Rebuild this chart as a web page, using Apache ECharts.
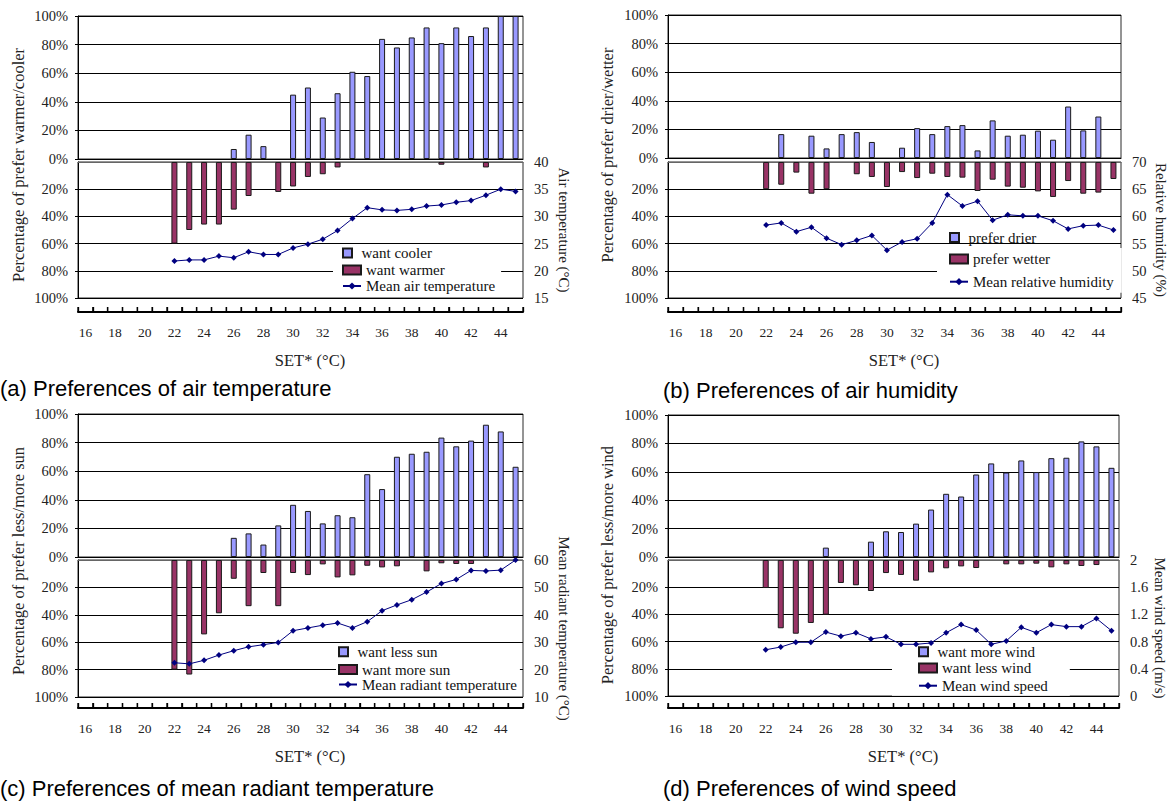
<!DOCTYPE html>
<html>
<head>
<meta charset="utf-8">
<script src="https://cdn.jsdelivr.net/npm/echarts@6/dist/echarts.min.js"></script>
<style>
html,body{margin:0;padding:0;background:#fff;}
#c{width:1169px;height:804px;}
</style>
</head>
<body>
<div id="c"></div>
<script>
// ---------- DATA ----------
const categories = ['16','17','18','19','20','21','22','23','24','25','26','27','28','29','30','31','32','33','34','35','36','37','38','39','40','41','42','43','44','45'];

// (a) air temperature
const aWantCooler = [null,null,null,null,null,null,null,null,null,null,7,17,9,null,45,50,29,46,61,58,84,78,85,92,81,92,86,92,100,100];
const aWantWarmer = [null,null,null,null,null,null,60,50,46,46,35,25,null,22,18,11,9,4,null,null,null,null,null,null,2,null,null,4,null,null];
const aMeanAirTemp = [null,null,null,null,null,null,21.8,22.0,22.0,22.7,22.4,23.5,23.0,23.0,24.2,24.9,25.8,27.4,29.6,31.6,31.2,31.1,31.3,31.9,32.1,32.6,32.9,33.9,35.0,34.6];

// (b) air humidity
const bPreferDrier = [null,null,null,null,null,null,null,16.7,null,15.6,6.7,16.7,18.1,11.2,null,7.2,20.9,16.7,22.3,23,5.3,26.3,15.6,16.3,19.1,12.8,36,19.3,29,null];
const bPreferWetter = [null,null,null,null,null,null,20,16.7,7.8,23.3,20,null,9,11,18.4,7.4,11.8,8.6,11,11.5,21.3,13,18.1,18.9,21.6,25.7,14,23.3,22.5,12.5];
const bMeanRH = [null,null,null,null,null,null,58.4,58.8,57.2,58.0,56.0,54.8,55.6,56.5,53.8,55.3,55.9,58.8,64.0,61.9,62.8,59.3,60.3,60.1,60.1,59.2,57.7,58.3,58.4,57.5];

// (c) mean radiant temperature
const cWantLessSun = [null,null,null,null,null,null,null,null,null,null,13.4,16.5,8.7,22.1,36.5,32.2,23.5,29.2,27.8,57.9,47.5,70.1,72.2,73.6,83.5,77.4,81.4,92.5,87.8,63.1];
const cWantMoreSun = [null,null,null,null,null,null,80,83.6,54.3,38.9,13.7,33.7,9.5,33.7,9.5,11,3.2,12.7,11.2,4.2,5.4,4.6,null,8.3,2.4,2.9,2.9,null,null,null];
const cMeanMRT = [null,null,null,null,null,null,22.5,22.1,23.4,25.3,26.9,28.3,29.1,29.9,34.2,35.2,36.2,37.0,35.2,37.5,41.5,43.6,45.5,48.3,51.4,52.9,56.2,56.0,56.3,60.0];

// (d) wind speed
const dWantMoreWind = [null,null,null,null,null,null,null,null,null,null,6.6,null,null,10.8,18.1,17.6,23.5,33.4,44.5,42.6,58.1,65.9,59.5,68,59.8,69.6,69.9,81.4,77.9,62.8];
const dWantLessWind = [null,null,null,null,null,null,20.6,50.2,54.2,46.3,40.2,16.9,18.6,22.8,9.6,11,15.2,9.1,6.1,4.7,5.9,null,3.2,3.2,2.7,5.4,3.2,4.4,3.7,null];
const dMeanWind = [null,null,null,null,null,null,0.68,0.72,0.79,0.79,0.94,0.88,0.93,0.84,0.87,0.76,0.76,0.78,0.93,1.05,0.97,0.76,0.81,1.01,0.93,1.05,1.02,1.02,1.14,0.96];

// ---------- PANELS ----------
const panels = [
  {cap:'(a) Preferences of air temperature', capX:0, capY:388,
   leftName:'Percentage of prefer warmer/cooler', lnX:18, lnY:165,
   rightName:'Air temperature (\u00B0C)', rGap:33.5, rMin:15, rMax:40, rInt:5,
   s1:'want cooler', s2:'want warmer', s3:'Mean air temperature',
   d1:aWantCooler, d2:aWantWarmer, d3:aMeanAirTemp,
   L:78, R:523, tTop:16, tH:143, bTop:162, bH:136, axY:312,
   lgA:{left:342, top:245, lh:16, gap:0},
   lgB:{left:333, top:259, lh:16, gap:0, pad:[3,6,3,9]}},
  {cap:'(b) Preferences of air humidity', capX:663, capY:390,
   leftName:'Percentage of prefer drier/wetter', lnX:607, lnY:155,
   rightName:'Relative humidity (%)', rGap:32, rMin:45, rMax:70, rInt:5,
   s1:'prefer drier', s2:'prefer wetter', s3:'Mean relative humidity',
   d1:bPreferDrier, d2:bPreferWetter, d3:bMeanRH,
   L:668, R:1121, tTop:15, tH:143, bTop:162, bH:136, axY:312,
   lgA:{left:949, top:229.5, lh:16, gap:0},
   lgB:{left:937, top:248, lh:16, gap:6.7, pad:[3,8,3,12]}},
  {cap:'(c) Preferences of mean radiant temperature', capX:0, capY:788,
   leftName:'Percentage of prefer less/more sun', lnX:18, lnY:561,
   rightName:'Mean radiant temperature (\u00B0C)', rGap:33, rMin:10, rMax:60, rInt:10,
   s1:'want less sun', s2:'want more sun', s3:'Mean radiant temperature',
   d1:cWantLessSun, d2:cWantMoreSun, d3:cMeanMRT,
   L:78, R:523, tTop:414, tH:143, bTop:560, bH:137, axY:708,
   lgA:{left:338, top:643.7, lh:16, gap:0},
   lgB:{left:336, top:660, lh:13, gap:0, pad:[2,3,2,2]}},
  {cap:'(d) Preferences of wind speed', capX:663, capY:788,
   leftName:'Percentage of prefer less/more wind', lnX:607, lnY:565,
   rightName:'Mean wind speed (m/s)', rGap:33, rMin:0, rMax:2, rInt:0.4,
   s1:'want more wind', s2:'want less wind', s3:'Mean wind speed',
   d1:dWantMoreWind, d2:dWantLessWind, d3:dMeanWind,
   L:668, R:1119, tTop:415, tH:142, bTop:560, bH:136, axY:708,
   lgA:{left:918, top:643.7, lh:16, gap:0},
   lgB:{left:892, top:658, lh:16, gap:1.7, pad:[2,22,2,26]}}
];

const SERIF = '"Liberation Serif", "Times New Roman", serif';
const SANS = '"Liberation Sans", Arial, sans-serif';
const LBL = '#222';

const grid = [], xAxis = [], yAxis = [], series = [], legend = [], title = [], graphic = [];
const stripAxisIdx = [];

panels.forEach(p => {
  const W = p.R - p.L;
  // top grid (positive bars)
  const gT = grid.length;
  grid.push({left:p.L, top:p.tTop, width:W, height:p.tH, show:true, borderColor:'#2a2a2a', borderWidth:1, backgroundColor:'transparent', containLabel:false});
  const xT = xAxis.length;
  xAxis.push({gridIndex:gT, type:'category', data:categories, boundaryGap:true, position:'bottom',
    axisLine:{show:true, onZero:false, lineStyle:{color:'#000', width:1}}, axisTick:{show:false}, axisLabel:{show:false}, splitLine:{show:false}});
  const yT = yAxis.length;
  yAxis.push({gridIndex:gT, type:'value', min:0, max:100, interval:20, position:'left',
    axisLine:{show:true, lineStyle:{color:'#000', width:1}},
    axisTick:{show:true, length:3, lineStyle:{color:'#000'}},
    axisLabel:{formatter:'{value}%', fontSize:14.5, fontFamily:SERIF, color:LBL, margin:10},
    splitLine:{show:true, lineStyle:{color:'#000', width:1}}});

  // bottom grid (negative bars + line)
  const gB = grid.length;
  grid.push({left:p.L, top:p.bTop, width:W, height:p.bH, show:true, borderColor:'#2a2a2a', borderWidth:1, backgroundColor:'transparent', containLabel:false});
  const xB = xAxis.length;
  xAxis.push({gridIndex:gB, type:'category', data:categories, boundaryGap:true, position:'top',
    axisLine:{show:true, onZero:false, lineStyle:{color:'#666', width:1}}, axisTick:{show:false}, axisLabel:{show:false}, splitLine:{show:false}});
  const yBL = yAxis.length;
  yAxis.push({gridIndex:gB, type:'value', min:0, max:100, interval:20, inverse:true, position:'left',
    axisLine:{show:true, lineStyle:{color:'#000', width:1}},
    axisTick:{show:true, length:3, lineStyle:{color:'#000'}},
    axisLabel:{formatter:'{value}%', fontSize:14.5, fontFamily:SERIF, color:LBL, margin:10, showMinLabel:false},
    splitLine:{show:true, lineStyle:{color:'#000', width:1}}});
  const yBR = yAxis.length;
  yAxis.push({gridIndex:gB, type:'value', min:p.rMin, max:p.rMax, interval:p.rInt, position:'right',
    axisLine:{show:false}, axisTick:{show:false}, splitLine:{show:false},
    axisLabel:{fontSize:14.5, fontFamily:SERIF, color:LBL, margin:11},
    name:p.rightName, nameLocation:'middle', nameRotate:-90, nameGap:p.rGap,
    nameTextStyle:{fontSize:15, fontFamily:SERIF, color:LBL}});

  // SET* axis strip (labels + name from the category axis)
  const gS = grid.length;
  grid.push({left:p.L, top:p.axY - 5, width:W, height:5, show:false, containLabel:false});
  stripAxisIdx.push(xAxis.length);
  xAxis.push({gridIndex:gS, type:'category', data:categories, boundaryGap:true, position:'bottom',
    axisLine:{show:true, onZero:false, lineStyle:{color:'#000', width:2}},
    axisTick:{show:true, inside:true, length:5, interval:0, lineStyle:{color:'#000', width:1.3}},
    axisLabel:{interval:1, fontSize:13.5, fontFamily:SERIF, color:LBL, margin:13},
    splitLine:{show:false},
    name:'SET* (\u00B0C)', nameLocation:'middle', nameGap:40,
    nameTextStyle:{fontSize:16.5, fontFamily:SERIF, color:LBL, padding:[0,0,0,19]}});
  yAxis.push({gridIndex:gS, type:'value', min:0, max:1, show:false});

  series.push({type:'bar', name:p.s1, xAxisIndex:xT, yAxisIndex:yT, data:p.d1, barWidth:6,
    itemStyle:{color:'#9999FF', borderColor:'#1a1a1a', borderWidth:1}});
  series.push({type:'bar', name:p.s2, xAxisIndex:xB, yAxisIndex:yBL, data:p.d2, barWidth:6,
    itemStyle:{color:'#993366', borderColor:'#1a1a1a', borderWidth:1}});
  series.push({type:'line', name:p.s3, xAxisIndex:xB, yAxisIndex:yBR, data:p.d3,
    symbol:'diamond', symbolSize:6, showSymbol:true, connectNulls:false, z:5,
    itemStyle:{color:'#000080'}, lineStyle:{color:'#000080', width:1}});

  legend.push({data:[{name:p.s1, icon:'path://M0 0H10V10H0Z'}], orient:'vertical',
    left:p.lgA.left, top:p.lgA.top, padding:0, itemWidth:18, itemHeight:9, itemGap:0,
    symbolKeepAspect:true, backgroundColor:'transparent', selectedMode:false,
    textStyle:{fontSize:15, fontFamily:SERIF, color:'#111', lineHeight:p.lgA.lh}});
  legend.push({data:[{name:p.s2, icon:'rect'}, {name:p.s3}], orient:'vertical',
    left:p.lgB.left, top:p.lgB.top, padding:p.lgB.pad, itemWidth:18, itemHeight:9, itemGap:p.lgB.gap,
    backgroundColor:'#ffffff', selectedMode:false,
    textStyle:{fontSize:15, fontFamily:SERIF, color:'#111', lineHeight:p.lgB.lh}});

  title.push({text:p.cap, left:p.capX, top:p.capY - 12, padding:0,
    textStyle:{fontFamily:SANS, fontSize:22, fontWeight:'normal', color:'#000', lineHeight:24}});

  graphic.push({type:'text', x:p.lnX, y:p.lnY, rotation:Math.PI/2, silent:true,
    style:{text:p.leftName, fontSize:16.5, fontFamily:SERIF, fill:LBL, align:'center', verticalAlign:'middle'}});
});

const chart = echarts.init(document.getElementById('c'), null, {renderer:'svg'});
chart.setOption({
  animation:false,
  backgroundColor:'#ffffff',
  textStyle:{fontFamily:SERIF},
  grid, xAxis, yAxis, series, legend, title, graphic,
  tooltip:{show:false}
});

// SET* axis baseline + category-boundary ticks, positioned from the category axis scale itself
const axisDecor = [];
panels.forEach((p, k) => {
  const ai = stripAxisIdx[k];
  const c0 = chart.convertToPixel({xAxisIndex:ai}, 0);
  const c1 = chart.convertToPixel({xAxisIndex:ai}, 1);
  const band = c1 - c0;
  const left = c0 - band / 2;
  const right = chart.convertToPixel({xAxisIndex:ai}, categories.length - 1) + band / 2;
  axisDecor.push({type:'line', silent:true, z:50,
    shape:{x1:left, y1:p.axY, x2:right, y2:p.axY},
    style:{stroke:'#000', lineWidth:2}});
  for (let i = 0; i <= categories.length; i++) {
    const x = left + i * band;
    axisDecor.push({type:'line', silent:true, z:50,
      shape:{x1:x, y1:p.axY, x2:x, y2:p.axY - 5},
      style:{stroke:'#000', lineWidth:1.3}});
  }
});
chart.setOption({graphic: graphic.concat(axisDecor)});
</script>
</body>
</html>
